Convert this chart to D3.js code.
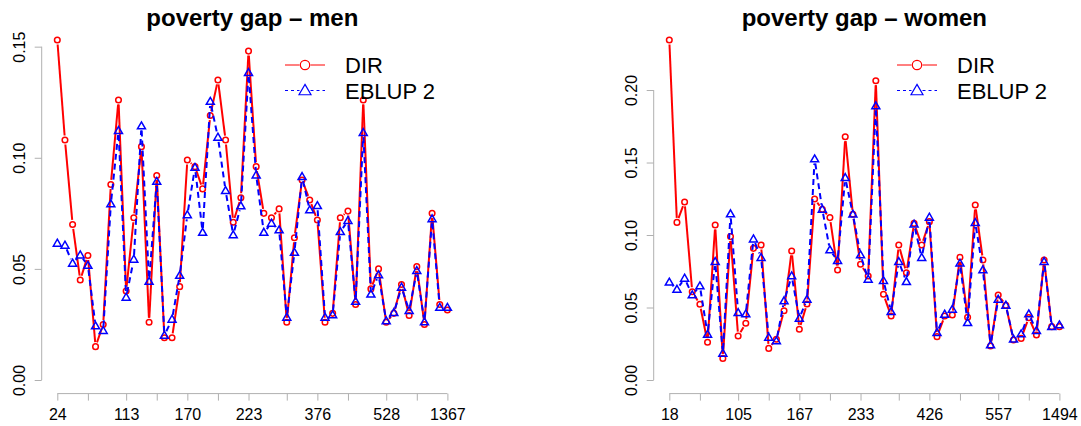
<!DOCTYPE html>
<html>
<head>
<meta charset="utf-8">
<script src="https://cdn.jsdelivr.net/npm/d3@7"></script>
<style>
  body { margin: 0; background: #fff; }
  svg { display: block; font-family: "Liberation Sans", Arial, Helvetica, sans-serif; }
</style>
</head>
<body>
<div id="chart"></div>
<script>
// values, one per domain (52 domains each)
const menDir = [0.153, 0.108, 0.070, 0.045, 0.056, 0.015, 0.025, 0.088, 0.126, 0.040,
  0.073, 0.105, 0.026, 0.092, 0.019, 0.019, 0.042, 0.099, 0.096, 0.086,
  0.119, 0.135, 0.108, 0.071, 0.082, 0.148, 0.096, 0.075, 0.073, 0.077,
  0.026, 0.064, 0.090, 0.081, 0.072, 0.026, 0.030, 0.073, 0.076, 0.034,
  0.126, 0.041, 0.050, 0.026, 0.030, 0.043, 0.029, 0.051, 0.025, 0.075,
  0.034, 0.0315];
const menEblup = [0.0615, 0.0606, 0.0525, 0.0562, 0.0515, 0.0243, 0.0222, 0.0792, 0.1122, 0.0372,
  0.0543, 0.1143, 0.0443, 0.0893, 0.0201, 0.0273, 0.047, 0.0743, 0.0956, 0.0664,
  0.1253, 0.1092, 0.0852, 0.0653, 0.0783, 0.1383, 0.0922, 0.0664, 0.0705, 0.0675,
  0.0282, 0.0574, 0.0915, 0.0765, 0.0784, 0.0282, 0.0293, 0.0667, 0.0717, 0.0353,
  0.1113, 0.0386, 0.0473, 0.0266, 0.0303, 0.0417, 0.0312, 0.0492, 0.0261, 0.0725,
  0.0326, 0.0326];
const womenDir = [0.2345, 0.1087, 0.1228, 0.0609, 0.0522, 0.026, 0.1069, 0.0149, 0.0989, 0.0303,
  0.0391, 0.0908, 0.0931, 0.0218, 0.0281, 0.0478, 0.089, 0.035, 0.0524, 0.1248,
  0.1177, 0.112, 0.0759, 0.1678, 0.1143, 0.0798, 0.0717, 0.2064, 0.0591, 0.0441,
  0.0931, 0.074, 0.108, 0.0931, 0.1092, 0.0299, 0.0441, 0.0448, 0.0846, 0.0432,
  0.1207, 0.0828, 0.0234, 0.0586, 0.0515, 0.0276, 0.0287, 0.043, 0.031, 0.0828,
  0.0368, 0.0368];
const womenEblup = [0.0674, 0.0625, 0.0701, 0.0586, 0.0648, 0.0315, 0.0816, 0.0184, 0.1145, 0.0464,
  0.0455, 0.0972, 0.0844, 0.0294, 0.0269, 0.0545, 0.0717, 0.0425, 0.0556, 0.1524,
  0.1177, 0.0897, 0.0823, 0.1395, 0.1143, 0.0862, 0.0694, 0.189, 0.0685, 0.0471,
  0.0816, 0.0678, 0.1074, 0.0844, 0.1122, 0.0326, 0.0453, 0.0487, 0.0805, 0.0395,
  0.1085, 0.0759, 0.0241, 0.0556, 0.0515, 0.0281, 0.0317, 0.0455, 0.034, 0.0816,
  0.0368, 0.0379];

// x ticks sit on these domain indices; only every other one carries a label
const xTickIdx = [1, 5, 10, 14, 18, 22, 26, 31, 35, 39, 44, 48, 52];
const menTickLabels = ['24', '113', '170', '223', '376', '528', '1367'];
const womenTickLabels = ['18', '105', '167', '233', '426', '557', '1494'];
const menYTicks = [0, 0.05, 0.10, 0.15];
const womenYTicks = [0, 0.05, 0.10, 0.15, 0.20];

const seriesNames = ['DIR', 'EBLUP 2'];

const W = 1081, H = 426;
const panelW = 463 + 77.5;   // plot area + right margin of one panel
const panel2X = 612;         // left edge of the second panel
const margin = { top: 26.4, right: 77.5, bottom: H - 393.6, left: 41.7 };
const RED = '#ff0000', BLUE = '#0000ff', AXIS = '#b0b0b0';

const svg = d3.select('#chart').append('svg')
  .attr('width', W).attr('height', H);

function triPath(cx, cy, s) {
  const h = s * Math.sqrt(3) / 2;
  return `M${cx},${cy - 2 * h / 3}L${cx + s / 2},${cy + h / 3}L${cx - s / 2},${cy + h / 3}Z`;
}

function drawPanel(offsetX, title, dir, eblup, yTicks, tickLabels) {
  const g = svg.append('g').attr('transform', `translate(${offsetX},0)`);
  const left = margin.left, right = panelW - margin.right;
  const top = margin.top, bottom = H - margin.bottom;
  const n = dir.length;

  // R style 4% padding on both axes
  const xPad = 0.04 * (n - 1);
  const x = d3.scaleLinear().domain([1 - xPad, n + xPad]).range([left, right]);
  const ymax = d3.max(dir.concat(eblup));
  const y = d3.scaleLinear().domain([-0.04 * ymax, ymax * 1.04]).range([bottom, top]);

  // title
  g.append('text')
    .attr('x', (left + right) / 2).attr('y', 26)
    .attr('text-anchor', 'middle')
    .attr('font-size', 24).attr('font-weight', 'bold')
    .text(title);

  // x axis (line only from first to last tick, like R)
  const xAxis = g.append('g')
    .attr('transform', `translate(0,${bottom})`)
    .call(d3.axisBottom(x).tickValues(xTickIdx).tickSize(7).tickSizeOuter(0)
      .tickFormat((d, i) => i % 2 === 0 ? tickLabels[i / 2] : ''));
  xAxis.select('.domain').remove();
  xAxis.append('line')
    .attr('x1', x(xTickIdx[0])).attr('x2', x(xTickIdx[xTickIdx.length - 1]))
    .attr('stroke', AXIS);
  xAxis.selectAll('.tick line').attr('stroke', AXIS);
  xAxis.selectAll('.tick text')
    .attr('y', 26).attr('dy', 0)
    .attr('fill', '#000').attr('font-size', 16)
    .attr('font-family', '"Liberation Sans", Arial, sans-serif');

  // y axis with rotated labels
  const yAxis = g.append('g')
    .attr('transform', `translate(${left},0)`)
    .call(d3.axisLeft(y).tickValues(yTicks).tickSize(7).tickSizeOuter(0)
      .tickFormat(d3.format('.2f')));
  yAxis.select('.domain').remove();
  yAxis.append('line')
    .attr('y1', y(yTicks[0])).attr('y2', y(yTicks[yTicks.length - 1]))
    .attr('stroke', AXIS);
  yAxis.selectAll('.tick line').attr('stroke', AXIS);
  yAxis.selectAll('.tick text')
    .attr('x', null).attr('dy', null)
    .attr('text-anchor', 'middle')
    .attr('transform', 'translate(-16.7,0) rotate(-90)')
    .attr('fill', '#000').attr('font-size', 16)
    .attr('font-family', '"Liberation Sans", Arial, sans-serif');

  // type = "b": segments stop short of the symbols
  function drawSeries(vals, color, dash, symbol) {
    const pts = vals.map((v, i) => [x(i + 1), y(v)]);
    const gap = 4.5;
    const segs = [];
    for (let i = 0; i < pts.length - 1; i++) {
      const [x1, y1] = pts[i], [x2, y2] = pts[i + 1];
      const len = Math.hypot(x2 - x1, y2 - y1);
      if (len <= 2 * gap) continue;
      const ux = (x2 - x1) / len, uy = (y2 - y1) / len;
      segs.push([x1 + ux * gap, y1 + uy * gap, x2 - ux * gap, y2 - uy * gap]);
    }
    g.append('g').selectAll('line')
      .data(segs)
      .join('line')
      .attr('x1', d => d[0]).attr('y1', d => d[1])
      .attr('x2', d => d[2]).attr('y2', d => d[3])
      .attr('stroke', color).attr('stroke-width', 2)
      .attr('stroke-dasharray', dash);

    if (symbol === 'circle') {
      g.append('g').selectAll('circle')
        .data(pts)
        .join('circle')
        .attr('cx', d => d[0]).attr('cy', d => d[1])
        .attr('r', 2.8)
        .attr('fill', 'none').attr('stroke', color).attr('stroke-width', 1.5);
    } else {
      g.append('g').selectAll('path')
        .data(pts)
        .join('path')
        .attr('d', d => triPath(d[0], d[1] + 0.5, 8))
        .attr('fill', 'none').attr('stroke', color).attr('stroke-width', 1.5);
    }
  }

  drawSeries(dir, RED, null, 'circle');
  drawSeries(eblup, BLUE, '6,4', 'triangle');

  // legend
  const lg = g.append('g').attr('transform', `translate(${left + 243.3},0)`);
  const rows = [
    { name: seriesNames[0], color: RED, dash: null, y: 65, sym: 'circle' },
    { name: seriesNames[1], color: BLUE, dash: '3,3', y: 90.5, sym: 'triangle' }
  ];
  rows.forEach(r => {
    lg.append('line').attr('x1', 0).attr('x2', 14.5).attr('y1', r.y).attr('y2', r.y)
      .attr('stroke', r.color).attr('stroke-width', 1).attr('stroke-dasharray', r.dash);
    lg.append('line').attr('x1', 25.5).attr('x2', 40).attr('y1', r.y).attr('y2', r.y)
      .attr('stroke', r.color).attr('stroke-width', 1).attr('stroke-dasharray', r.dash);
    if (r.sym === 'circle') {
      lg.append('circle').attr('cx', 20).attr('cy', r.y).attr('r', 4.7)
        .attr('fill', 'none').attr('stroke', r.color).attr('stroke-width', 1.2);
    } else {
      lg.append('path').attr('d', triPath(20, r.y + 0.8, 12))
        .attr('fill', 'none').attr('stroke', r.color).attr('stroke-width', 1.2);
    }
    lg.append('text').attr('x', 60).attr('y', r.y + 8)
      .attr('font-size', 22).attr('fill', '#000')
      .text(r.name);
  });
}

drawPanel(0, 'poverty gap \u2013 men', menDir, menEblup, menYTicks, menTickLabels);
drawPanel(panel2X, 'poverty gap \u2013 women', womenDir, womenEblup, womenYTicks, womenTickLabels);
</script>
</body>
</html>
